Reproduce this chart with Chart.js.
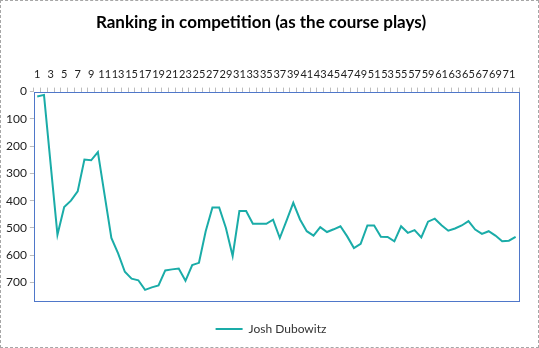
<!DOCTYPE html>
<html>
<head>
<meta charset="utf-8">
<script src="https://cdn.jsdelivr.net/npm/chart.js@4"></script>
<style>
  html, body { margin: 0; padding: 0; background: #fff; }
  #wrap { width: 539px; height: 348px; box-sizing: border-box; border: 1px dashed #a6a6a6; }
</style>
</head>
<body>
<div id="wrap"><canvas id="rankchart" width="537" height="346"></canvas></div>
<script>
var rounds = [1, 2, 3, 4, 5, 6, 7, 8, 9, 10, 11, 12, 13, 14, 15, 16, 17, 18, 19, 20, 21, 22, 23, 24,
    25, 26, 27, 28, 29, 30, 31, 32, 33, 34, 35, 36, 37, 38, 39, 40, 41, 42, 43, 44, 45, 46, 47, 48,
    49, 50, 51, 52, 53, 54, 55, 56, 57, 58, 59, 60, 61, 62, 63, 64, 65, 66, 67, 68, 69, 70, 71, 72];
var ranking = [18, 12, 270, 525, 423, 400, 366, 249, 252, 222, 380, 537, 593, 661, 686, 692, 727, 718,
    711, 656, 652, 649, 694, 636, 628, 512, 425, 425, 500, 603, 438, 438, 485, 485, 485, 470, 537, 473,
    408, 469, 512, 528, 497, 515, 505, 494, 531, 574, 558, 491, 491, 532, 533, 549, 494, 518, 508, 535,
    477, 466, 490, 510, 502, 491, 475, 506, 522, 512, 528, 549, 547, 533];
var yTicks = [0, 100, 200, 300, 400, 500, 600, 700];

var lineColor = '#1aaca8';
var font = "Lato, 'Liberation Sans', sans-serif";

// blue frame round the plot area
var plotBorder = {
    id: 'plotBorder',
    afterLayout: function (chart) {
        // legend sits centred on the whole frame, not the padded area
        if (chart.legend) {
            chart.legend.left += 19;
            chart.legend.right += 1;
        }
    },
    afterDraw: function (chart) {
        var a = chart.chartArea, ctx = chart.ctx;
        ctx.save();
        ctx.strokeStyle = '#4f77c9';
        ctx.lineWidth = 1;
        ctx.strokeRect(Math.round(a.left) + 0.5, Math.round(a.top) + 0.5,
            Math.round(a.right - a.left), Math.round(a.bottom - a.top));
        ctx.restore();
    }
};

var ctx = document.getElementById('rankchart');
var myChart = new Chart(ctx, {
    type: 'line',
    data: {
        labels: rounds,
        datasets: [{
            label: 'Josh Dubowitz',
            data: ranking,
            borderColor: lineColor,
            backgroundColor: lineColor,
            borderWidth: 2,
            pointRadius: 0,
            tension: 0,
            fill: false
        }]
    },
    options: {
        responsive: false,
        animation: false,
        layout: { padding: { left: 2, right: 19, top: 6, bottom: 2 } },
        plugins: {
            title: {
                display: true,
                text: 'Ranking in competition (as the course plays)',
                color: '#000',
                font: { family: font, size: 17, weight: 'bold' },
                padding: { top: 5, bottom: 28 }
            },
            legend: {
                display: true,
                position: 'bottom',
                labels: {
                    color: '#333',
                    font: { family: font, size: 12 },
                    boxWidth: 27,
                    boxHeight: 0,
                    padding: 22
                }
            },
            tooltip: { enabled: false }
        },
        scales: {
            x: {
                position: 'top',
                offset: true,
                grid: {
                    offset: true,
                    drawOnChartArea: false,
                    tickLength: 4,
                    color: '#bdbdbd'
                },
                border: { display: false },
                ticks: {
                    autoSkip: false,
                    maxRotation: 0,
                    padding: 7,
                    color: '#222',
                    font: { family: font, size: 11 },
                    callback: function (val, i) { return i % 2 === 0 ? rounds[i] : ''; }
                }
            },
            y: {
                reverse: true,
                min: 0,
                max: 768,
                afterBuildTicks: function (axis) {
                    axis.ticks = yTicks.map(function (v) { return { value: v }; });
                },
                grid: {
                    drawOnChartArea: false,
                    tickLength: 4,
                    color: '#bdbdbd'
                },
                border: { display: false },
                ticks: {
                    padding: 3,
                    color: '#222',
                    font: { family: font, size: 12 }
                }
            }
        }
    },
    plugins: [plotBorder]
});
</script>
</body>
</html>
